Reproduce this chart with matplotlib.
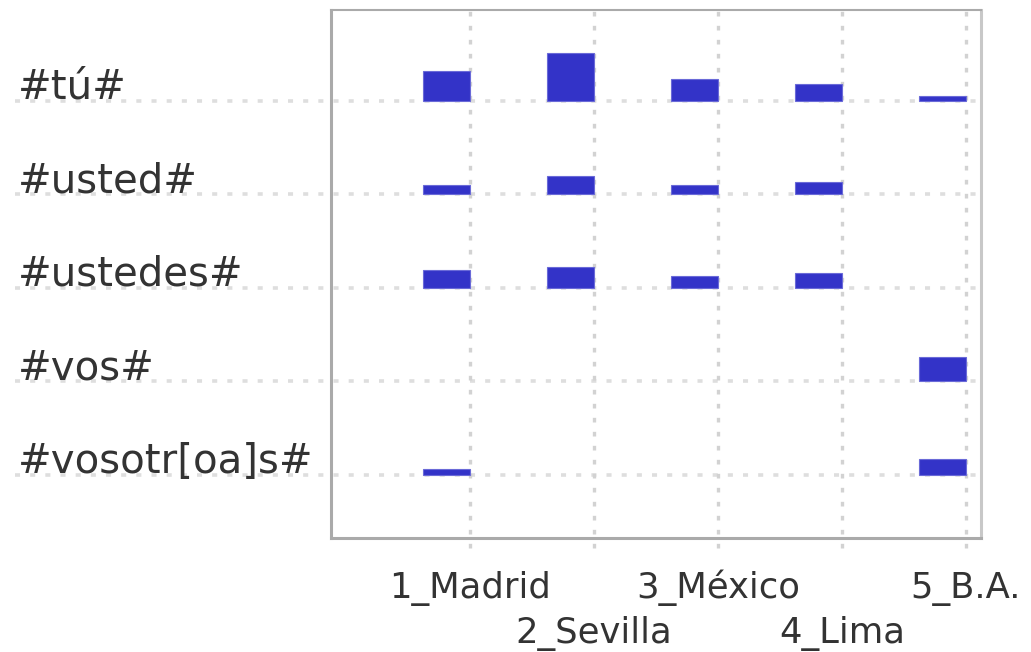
import matplotlib
matplotlib.use("Agg")
import matplotlib.pyplot as plt
import matplotlib.transforms as mtransforms
import numpy as np

# rows (search patterns) and columns (cities)
patterns = ["#tú#", "#usted#", "#ustedes#", "#vos#", "#vosotr[oa]s#"]
cities = ["1_Madrid", "2_Sevilla", "3_México", "4_Lima", "5_B.A."]

# relative frequency per pattern, one value per city
freq_tu = [30, 48, 22, 17, 5]
freq_usted = [9, 18, 9, 12, 0]
freq_ustedes = [18, 21, 12, 15, 0]
freq_vos = [0, 0, 0, 0, 24]
freq_vosotros = [6, 0, 0, 0, 16]

rows = [freq_tu, freq_usted, freq_ustedes, freq_vos, freq_vosotros]

plt.rcParams['font.family'] = ['DejaVu Sans']
text_color = '#333333'
bar_color = '#3333c8'
grid_color = '#dedede'

fig = plt.figure(figsize=(10.31, 6.52), dpi=100)
ax = fig.add_axes([0.321, 0.1748, 0.6305, 0.8099])

row_scale = 93.5   # frequency units per row band
bar_w = 0.38

ax.set_xlim(-1.121, 4.121)
ax.set_ylim(-4.674, 0.973)

# grid lines first so the bars sit on top
for i in range(len(patterns)):
    ax.axhline(-i, xmin=-0.486, xmax=1, color=grid_color, lw=2.6,
               linestyle=(0, (1.4, 2.8)), clip_on=False, zorder=1)
for j in range(len(cities)):
    ax.axvline(j, ymin=-0.019, ymax=1, color='#d2d2d2', lw=2.4,
               linestyle=(0, (1.4, 2.8)), clip_on=False, zorder=1)

for i, vals in enumerate(rows):
    vals = np.array(vals, dtype=float)
    x = np.arange(len(cities))
    mask = vals > 0
    ax.bar(x[mask] - bar_w, vals[mask] / row_scale, width=bar_w, bottom=-i,
           align='edge', color=bar_color, edgecolor='#6a6ad8', linewidth=0.8,
           zorder=3)

# row labels, left of the plot, sitting on their grid line
lab_tr = mtransforms.blended_transform_factory(fig.transFigure, ax.transData)
for i, name in enumerate(patterns):
    ax.text(18 / 1031, -i + 2 / row_scale, name, transform=lab_tr,
            ha='left', va='baseline', fontsize=29, color=text_color)

# column labels, staggered on two lines
for j, name in enumerate(cities):
    off = -60 if j % 2 == 0 else -105
    tr = mtransforms.offset_copy(
        mtransforms.blended_transform_factory(ax.transData, ax.transAxes),
        fig=fig, y=off * 72 / 100, units='points')
    ax.text(j, 0, name, transform=tr, ha='center', va='baseline',
            fontsize=25.5, color=text_color)

ax.set_xticks([])
ax.set_yticks([])
ax.spines['left'].set_color('#aaaaaa')
ax.spines['left'].set_linewidth(2.2)
ax.spines['bottom'].set_color('#aaaaaa')
ax.spines['bottom'].set_linewidth(2.2)
ax.spines['top'].set_color('#aaaaaa')
ax.spines['top'].set_linewidth(1.5)
ax.spines['right'].set_color('#c8c8c8')
ax.spines['right'].set_linewidth(2.2)

fig.savefig("out.png", dpi=100)
